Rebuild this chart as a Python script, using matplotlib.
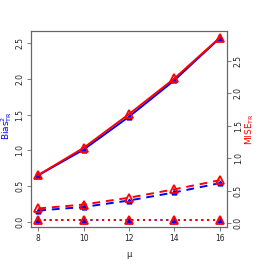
import matplotlib
matplotlib.use("Agg")
import matplotlib.pyplot as plt

mu = [8, 10, 12, 14, 16]
# Bias^2 (left axis, blue)
bias_solid = [0.65, 1.01, 1.47, 1.98, 2.57]
bias_dashed = [0.157, 0.206, 0.297, 0.41, 0.54]
bias_dotted = [0.024, 0.024, 0.024, 0.024, 0.024]
# MISE (right axis, red)
mise_solid = [0.74, 1.16, 1.68, 2.23, 2.86]
mise_dashed = [0.224, 0.285, 0.39, 0.52, 0.66]
mise_dotted = [0.046, 0.046, 0.046, 0.046, 0.046]

fig = plt.figure(figsize=(2.66, 2.66), dpi=100)
ax = fig.add_axes([31/266, 39/266, 196/266, 196/266])
ax2 = ax.twinx()

styles = ["-", (0, (4, 3)), (0, (1, 2))]
for vals, ls in zip([bias_solid, bias_dashed, bias_dotted], styles):
    ax.plot(mu, vals, color="blue", lw=1.4, ls=ls, marker="^", ms=3.5,
            mfc="blue", mec="blue", zorder=2)
for vals, ls in zip([mise_solid, mise_dashed, mise_dotted], styles):
    ax2.plot(mu, vals, color="red", lw=1.4, ls=ls, marker="^", ms=5.5,
             mfc="none", mec="red", mew=1.3, zorder=3)

ax.set_xlim(7.68, 16.32)
ax.set_ylim(-0.074, 2.67)
ax2.set_ylim(-0.062, 2.963)
ax.set_xticks(mu)
ax.set_yticks([0, 0.5, 1, 1.5, 2, 2.5])
ax2.set_yticks([0, 0.5, 1, 1.5, 2, 2.5])
ax.set_yticklabels(["0.0", "0.5", "1.0", "1.5", "2.0", "2.5"])
ax2.set_yticklabels(["0.0", "0.5", "1.0", "1.5", "2.0", "2.5"])

for a in (ax, ax2):
    for s in a.spines.values():
        s.set_color("#666666")
        s.set_linewidth(0.8)
    a.tick_params(length=3, width=0.6, color="#666666", labelsize=5.5,
                  labelcolor="#222222", pad=2)
ax.tick_params(axis="y", labelrotation=90)
ax2.tick_params(axis="y", labelrotation=90)
for t in ax.get_yticklabels() + ax2.get_yticklabels():
    t.set_va("center")

ax.set_xlabel("μ", fontsize=6, color="#222222")
ax.xaxis.set_label_coords(0.5, -0.117)
ax.set_ylabel(r"Bias$^2_{\mathrm{TR}}$", fontsize=6.5, color="blue", va="center")
ax.yaxis.set_label_coords(-0.125, 0.52)
ax2.set_ylabel(r"MISE$_{\mathrm{TR}}$", fontsize=6.5, color="red", va="center")
ax2.yaxis.set_label_coords(1.115, 0.5)

fig.savefig("out.png", dpi=100)
